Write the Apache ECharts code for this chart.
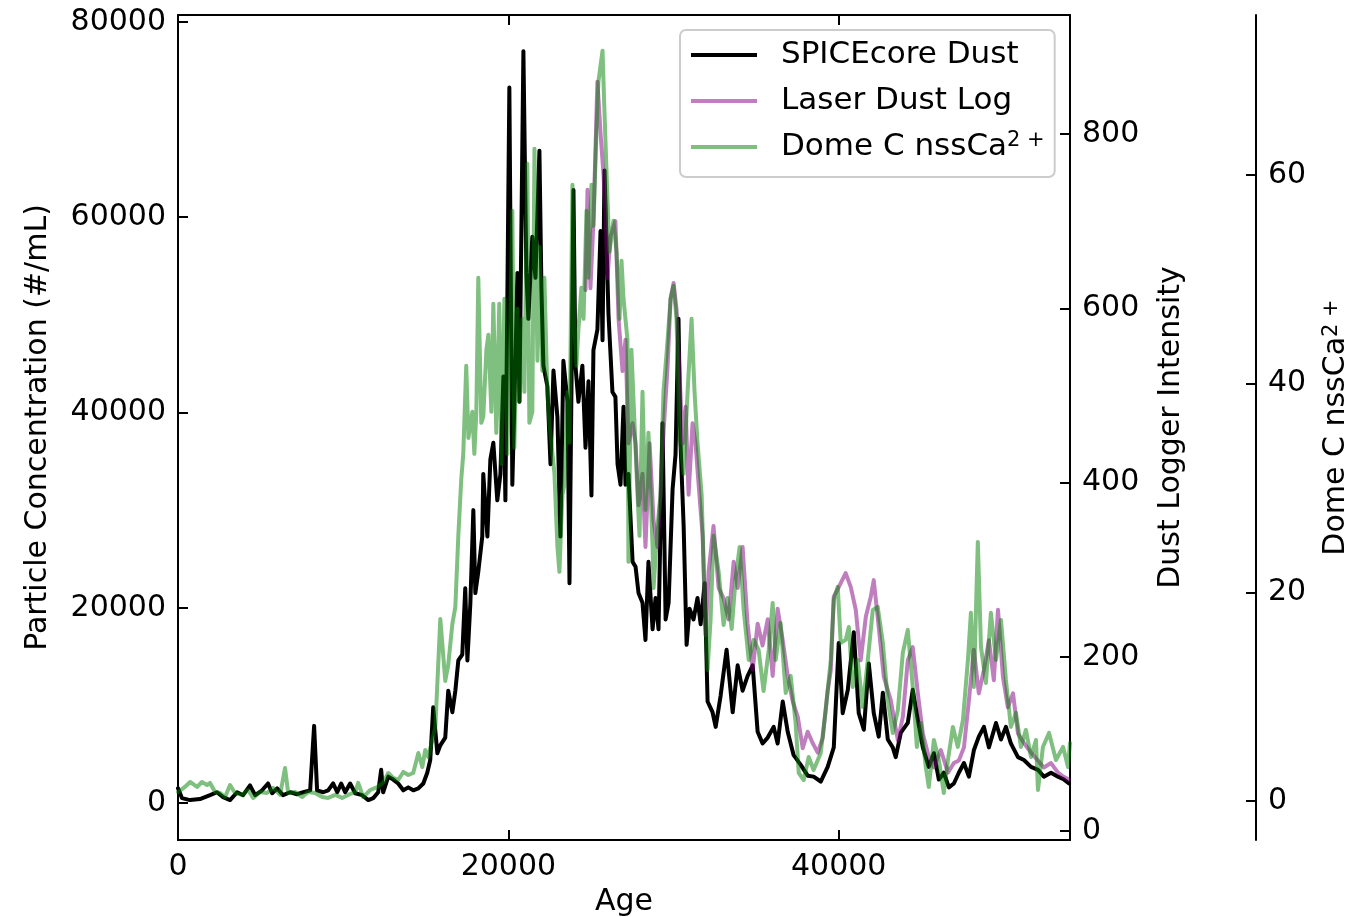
<!DOCTYPE html>
<html>
<head>
<meta charset="utf-8">
<script src="https://cdn.jsdelivr.net/npm/echarts@6/dist/echarts.min.js"></script>
<style>
html,body{margin:0;padding:0;background:#fff;}
#chart{width:1366px;height:917px;}
</style>
</head>
<body>
<div id="chart"></div>
<script>
// SPICEcore dust: particle concentration (#/mL) against age
const spiceAge = [0,240,730,1330,1940,2360,2730,3150,3580,3940,4360,4670,5090,5450,5700,6000,6360,6790,7210,7580,8000,8240,8420,8790,9090,9390,9640,9880,10120,10420,10730,11150,11520,11820,12120,12300,12420,12730,13030,13330,13640,13940,14240,14550,14850,15090,15270,15450,15700,15880,16180,16360,16610,16790,16970,17210,17390,17520,17700,17880,18000,18180,18420,18480,18730,18910,19090,19330,19520,19700,19820,20060,20240,20420,20550,20670,20910,21090,21210,21450,21640,21880,22000,22120,22360,22550,22730,22970,23150,23330,23580,23700,23940,24060,24240,24480,24670,24850,25030,25150,25390,25580,25700,25820,26060,26300,26480,26610,26790,26970,27090,27270,27520,27700,27880,28120,28300,28480,28730,28910,29090,29330,29520,29700,29940,30120,30300,30420,30610,30790,30970,31210,31450,31640,31880,32060,32360,32550,32850,33210,33580,33880,34180,34480,34790,35090,35390,35700,36060,36300,36610,36910,37270,37700,38120,38480,38910,39330,39700,40000,40240,40550,40910,41210,41520,41820,42120,42420,42670,42970,43270,43450,43760,44180,44480,44790,45090,45450,45760,46060,46360,46670,46970,47270,47580,47880,48180,48480,48790,49090,49520,49820,50120,50420,50850,51210,51640,52060,52420,52850,53270,53640,53940];
const spiceConc = [1500,500,300,400,800,1100,600,300,1100,800,1800,800,1300,2000,1000,1500,800,1100,900,1100,1300,7900,1300,1100,1300,2000,1100,2000,1100,2000,1000,800,300,500,1100,3400,1100,2700,2400,2000,1300,1600,1300,1500,2000,3100,4400,9800,5100,5900,6700,11500,9300,11500,14600,15200,22000,14600,20500,30000,21500,23700,27300,33700,27300,35200,36900,31000,33700,43700,31000,73300,32600,44800,54300,41100,77000,54300,49600,58000,53800,66800,52800,44800,42700,34700,44300,39500,27300,45300,41100,22500,62800,44800,41100,44800,36400,43200,31500,46400,48500,58600,47400,64800,50100,42100,41600,34700,32600,40600,32600,33700,24700,24200,21500,20500,16700,24700,17800,21000,17800,38900,18800,20500,32100,35700,49600,36900,28400,16200,19900,18800,21000,18300,22500,10400,9300,7800,11000,15700,9300,14100,11500,13000,14100,7300,6100,6700,7800,6100,10400,7300,4900,3900,2800,2700,2200,3700,5700,16400,9200,11600,17500,9200,7500,14300,9200,6800,11300,6500,5700,4700,7200,8200,11600,8500,5700,3700,5100,2400,3100,1600,2000,3100,4100,2700,5400,6800,7800,5700,8200,6500,7800,6100,4700,4400,3700,3400,2700,3100,2700,2400,2000];

// Laser dust logger intensity against age
const laserAge = [24670,24790,24970,25150,25390,25580,25760,25880,26000,26180,26480,26670,26910,27090,27270,27520,27700,27880,28120,28300,28550,28790,29030,29210,29390,29640,29820,30000,30180,30300,30550,30730,30910,31150,31330,31520,31760,31940,32120,32420,32730,33030,33330,33640,33880,34180,34480,34790,35090,35390,35700,36000,36300,36610,36910,37210,37520,37820,38120,38420,38730,39030,39330,39520,39700,40000,40420,40730,41030,41330,41640,41940,42120,42420,42730,43150,43580,43880,44180,44480,44790,45090,45450,45760,46180,46610,46970,47270,47580,47880,48180,48480,48790,49090,49390,49640,49940,50240,50550,50850,51210,51640,52060,52420,52850,53270,53640,53940];
const laserIntensity = [621,736,623,700,860,801,753,712,635,682,700,588,528,564,445,468,445,374,410,326,445,356,326,386,457,534,611,629,599,552,445,487,386,468,445,397,339,225,297,350,279,267,243,309,279,326,238,185,238,213,243,178,255,219,178,149,131,95,114,101,90,107,161,185,269,280,296,280,254,196,246,269,288,234,177,150,104,131,196,211,158,112,85,73,93,67,78,81,96,150,208,158,185,219,173,254,177,142,158,112,101,90,81,73,78,67,62,59];

// Dome C non-sea-salt calcium against age
const domeAge = [0,420,730,1150,1450,1760,1940,2240,2550,2850,3150,3450,3880,4240,4550,4970,5390,5760,6180,6480,6670,7090,7520,7880,8300,8730,9090,9520,9940,10300,10730,10910,11210,11640,12060,12420,12730,13030,13330,13640,13940,14240,14550,14790,14970,15150,15390,15580,15880,16180,16360,16610,16790,16970,17150,17270,17450,17580,17820,17940,18060,18180,18360,18480,18670,18790,18970,19090,19270,19450,19580,19760,19940,20060,20240,20360,20550,20670,20850,20970,21150,21270,21450,21580,21760,21880,22060,22180,22360,22480,22670,22790,22970,23090,23270,23390,23580,23700,23880,24000,24120,24240,24420,24550,24730,24850,25030,25150,25330,25450,25700,25820,26000,26120,26360,26550,26730,26850,26970,27210,27270,27450,27580,27820,27940,28120,28300,28480,28730,28790,29030,29210,29390,29640,29820,30000,30180,30360,30610,30850,31090,31270,31450,31700,31880,32060,32240,32420,32730,33030,33270,33520,33760,34000,34240,34550,34850,35150,35450,35760,36000,36180,36480,36790,37090,37390,37580,37880,38180,38480,38910,39210,39520,39700,39940,40120,40420,40610,40850,41150,41450,41760,42060,42360,42670,42970,43270,43580,43880,44180,44480,44730,44970,45270,45450,45760,46060,46360,46610,46910,47210,47520,47820,48000,48180,48420,48610,48910,49210,49520,49820,50120,50420,50730,51030,51330,51640,51940,52060,52360,52730,53150,53580,53880,54000];
const domeCa = [0.86,1.34,1.82,1.34,1.82,1.53,1.73,0.86,0.77,0.38,1.53,0.77,0.58,1.05,0.29,0.86,0.77,1.25,0.58,3.16,0.77,0.86,0.38,0.86,0.77,0.38,0.29,0.58,0.29,0.58,0.86,1.73,0.38,1.05,1.34,1.73,2.68,2.21,2.01,2.78,2.49,2.68,4.60,3.26,4.89,4.22,5.85,7.10,17.45,11.51,13.04,16.97,18.60,25.41,30.87,33.27,41.71,34.80,37.30,33.27,37.30,50.15,36.24,36.82,43.24,44.68,37.30,47.65,35.28,47.65,32.31,48.13,33.27,41.23,56.57,33.85,47.17,38.26,46.21,39.21,61.07,36.24,37.30,62.51,42.19,53.12,41.23,50.15,39.21,36.24,33.27,31.35,24.35,21.96,29.34,30.30,39.21,34.33,59.06,45.16,41.71,45.16,49.19,46.21,56.57,50.15,59.06,55.13,64.05,68.94,71.91,65.96,57.62,52.64,55.61,52.64,46.21,51.78,48.13,44.20,22.92,43.24,38.26,29.34,25.41,39.21,27.90,35.28,24.35,20.42,26.37,29.34,39.21,44.20,48.13,49.38,46.21,35.28,31.35,39.21,46.21,39.21,34.33,29.34,19.46,12.56,17.35,25.41,21.96,16.87,19.46,16.49,21.38,24.35,18.41,13.52,15.44,14.48,10.55,14.48,18.98,13.52,17.07,10.36,11.99,7.48,2.68,2.01,4.22,2.97,4.60,8.72,13.52,19.27,20.52,15.15,15.44,16.68,10.93,13.52,9.01,13.52,18.31,18.60,15.15,9.68,6.52,8.72,14.19,16.40,10.93,5.18,7.48,3.26,1.34,5.85,3.93,0.77,3.93,7.10,5.18,7.77,13.52,18.03,10.93,24.83,14.77,11.31,18.03,13.52,17.35,11.60,7.10,8.44,5.18,6.81,4.22,5.85,1.05,5.18,6.52,3.93,5.18,3.26,5.56];

// Tick positions for each axis
const ageTicks = [0, 20000, 40000];
const concTicks = [0, 20000, 40000, 60000, 80000];
const intensityTicks = [0, 200, 400, 600, 800];
const caTicks = [0, 20, 40, 60];

const NAME_SPICE = 'SPICEcore Dust';
const NAME_LASER = 'Laser Dust Log';
const NAME_DOME = 'Dome C nssCa2+';

const FONT = 'DejaVu Sans';
const pair = (xs, ys) => xs.map((x, i) => [x, ys[i]]);

const chart = echarts.init(document.getElementById('chart'), null, {renderer: 'canvas'});

const spine = {show: true, onZero: false, lineStyle: {color: '#000', width: 2}};
// all ticks point into the plot area
const tick = (vals) => ({show: true, inside: true, length: 10, lineStyle: {color: '#000', width: 2}, customValues: vals});
const label = (vals) => ({show: true, fontSize: 30, color: '#000', fontFamily: FONT, margin: 12,
  customValues: vals, formatter: (v) => String(v)});
const supRich = {sup: {fontSize: 21, lineHeight: 20, verticalAlign: 'top', fontFamily: FONT, color: '#000'}};

chart.setOption({
  animation: false,
  backgroundColor: '#ffffff',
  textStyle: {fontFamily: FONT, color: '#000'},
  grid: {left: 178, right: 296, top: 15, bottom: 77, containLabel: false, outerBoundsMode: 'none'},
  legend: {
    orient: 'vertical',
    left: 680,
    top: 30,
    padding: [8, 10, 13, 11],
    itemWidth: 66,
    itemHeight: 4,
    itemGap: 12,
    icon: 'rect',
    backgroundColor: 'rgba(255,255,255,0.85)',
    borderColor: '#cccccc',
    borderWidth: 2,
    borderRadius: 6,
    data: [NAME_SPICE, NAME_LASER, NAME_DOME],
    formatter: (n) => n === NAME_DOME ? 'Dome C nssCa{sup|2 +}' : n,
    textStyle: {fontSize: 31, lineHeight: 34, color: '#000', fontFamily: FONT, padding: [0, 0, 0, 19], rich: supRich}
  },
  xAxis: [
    {
      type: 'value', min: 0, max: 54000, position: 'bottom',
      name: 'Age', nameLocation: 'middle', nameGap: 42,
      nameTextStyle: {fontSize: 30, color: '#000', fontFamily: FONT},
      axisLine: spine, axisTick: tick(ageTicks), axisLabel: label(ageTicks),
      splitLine: {show: false}
    },
    {
      type: 'value', min: 0, max: 54000, position: 'top',
      axisLine: spine, axisTick: tick([20000, 40000]), axisLabel: {show: false},
      splitLine: {show: false}
    }
  ],
  yAxis: [
    {
      type: 'value', min: -3790, max: 80717, position: 'left',
      name: 'Particle Concentration (#/mL)', nameLocation: 'middle', nameRotate: 90, nameGap: 125,
      nameTextStyle: {fontSize: 30, color: '#000', fontFamily: FONT},
      axisLine: spine, axisTick: tick(concTicks), axisLabel: label(concTicks),
      splitLine: {show: false}
    },
    {
      type: 'value', min: -10.3, max: 936.6, position: 'right', offset: 0,
      name: 'Dust Logger Intensity', nameLocation: 'middle', nameRotate: 90, nameGap: 86,
      nameTextStyle: {fontSize: 30, color: '#000', fontFamily: FONT},
      axisLine: spine, axisTick: tick(intensityTicks), axisLabel: label(intensityTicks),
      splitLine: {show: false}
    },
    {
      type: 'value', min: -3.74, max: 75.33, position: 'right', offset: 186,
      name: 'Dome C nssCa{sup|2 +}', nameLocation: 'middle', nameRotate: 90, nameGap: 65,
      nameTextStyle: {fontSize: 30, color: '#000', fontFamily: FONT, rich: supRich},
      axisLine: spine, axisTick: tick(caTicks), axisLabel: label(caTicks),
      splitLine: {show: false}
    }
  ],
  series: [
    {
      name: NAME_SPICE, type: 'line', xAxisIndex: 0, yAxisIndex: 0,
      data: pair(spiceAge, spiceConc), symbol: 'none',
      lineStyle: {color: '#000000', width: 4, cap: 'round', join: 'round'},
      itemStyle: {color: '#000000'}
    },
    {
      name: NAME_LASER, type: 'line', xAxisIndex: 0, yAxisIndex: 1,
      data: pair(laserAge, laserIntensity), symbol: 'none',
      lineStyle: {color: 'rgba(128,0,128,0.5)', width: 4, cap: 'round', join: 'round'},
      itemStyle: {color: 'rgba(128,0,128,0.5)'}
    },
    {
      name: NAME_DOME, type: 'line', xAxisIndex: 0, yAxisIndex: 2,
      data: pair(domeAge, domeCa), symbol: 'none',
      lineStyle: {color: 'rgba(0,128,0,0.5)', width: 4, cap: 'round', join: 'round'},
      itemStyle: {color: 'rgba(0,128,0,0.5)'}
    }
  ]
});
</script>
</body>
</html>
